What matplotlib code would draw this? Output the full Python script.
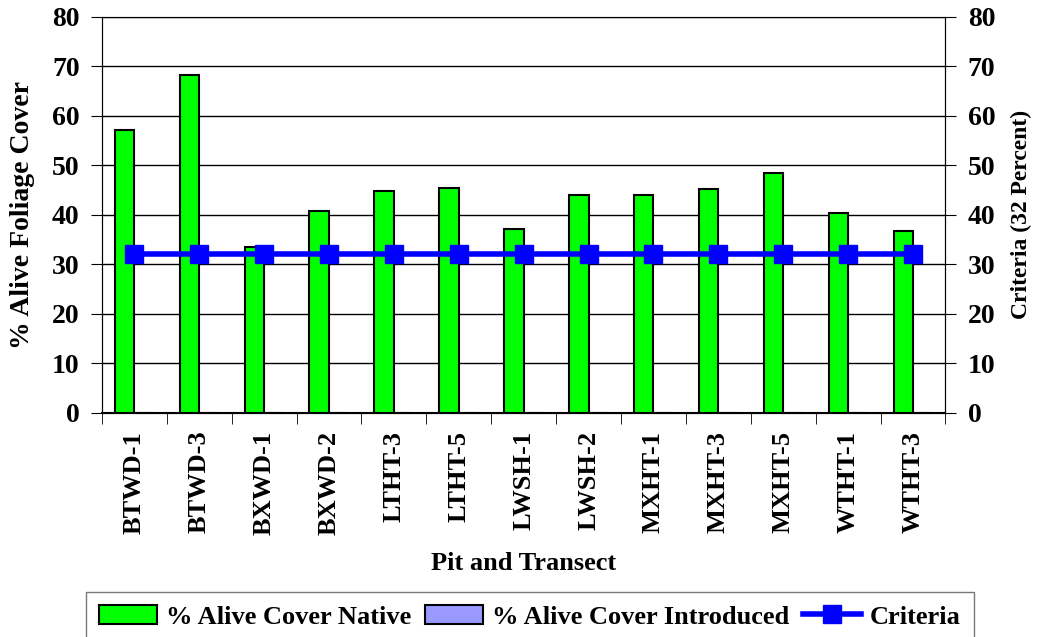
import numpy as np
import matplotlib.pyplot as plt

sitios = ["BTWD-1", "BTWD-3", "BXWD-1", "BXWD-2", "LTHT-3", "LTHT-5", "LWSH-1",
          "LWSH-2", "MXHT-1", "MXHT-3", "MXHT-5", "WTHT-1", "WTHT-3"]
cobertura_nativa = [57.0, 68.3, 33.5, 40.8, 44.8, 45.3, 37.2, 44.0, 44.0, 45.2, 48.5, 40.4, 36.8]
cobertura_introducida = [0] * 13
criterio = [32] * 13

plt.rcParams['font.family'] = ['Liberation Serif', 'DejaVu Serif']
plt.rcParams['font.weight'] = 'bold'

fig = plt.figure(figsize=(10.39, 6.37), dpi=100)
ax = fig.add_axes([0.098, 0.352, 0.812, 0.622])

x = np.arange(len(sitios))
ancho = 0.3
b1 = ax.bar(x - ancho / 2, cobertura_nativa, ancho, color="#00ff00", edgecolor="black",
            linewidth=1.5, label="% Alive Cover Native", zorder=3)
b2 = ax.bar(x + ancho / 2, cobertura_introducida, ancho, color="#9999ff", edgecolor="black",
            linewidth=1.5, label="% Alive Cover Introduced", zorder=3)

ax2 = ax.twinx()
l1, = ax2.plot(x, criterio, color="#0000ff", linewidth=4, marker="s", markersize=13.5,
               label="Criteria", zorder=4)

ax.set_xlim(-0.5, len(sitios) - 0.5)
ax.set_ylim(0, 80)
ax2.set_ylim(0, 80)
ax.set_yticks(range(0, 81, 10))
ax2.set_yticks(range(0, 81, 10))
ax.yaxis.grid(True, color="black", linewidth=1)
ax.set_axisbelow(True)

ax.set_xticks(x)
ax.set_xticklabels(sitios, rotation=90, fontsize=19, fontweight="bold")
ax.set_xticks(np.arange(-0.5, len(sitios), 1), minor=True)
ax.tick_params(axis="x", which="major", length=0, pad=13)
ax.tick_params(axis="x", which="minor", length=8, direction="out")
ax.tick_params(axis="y", labelsize=20, length=8, direction="out", pad=8)
ax2.tick_params(axis="y", labelsize=20, length=8, direction="out", pad=8)
for t in ax.get_yticklabels() + ax2.get_yticklabels():
    t.set_fontweight("bold")

ax.spines["top"].set_color("#888888")
ax.spines["bottom"].set_linewidth(1.5)

ax.set_ylabel("% Alive Foliage Cover", fontsize=20, fontweight="bold")
ax.yaxis.set_label_coords(-0.079, 0.5)
ax2.set_ylabel("Criteria (32 Percent)", fontsize=17, fontweight="bold")
ax2.yaxis.set_label_coords(1.078, 0.5)
ax.set_xlabel("Pit and Transect", fontsize=19, fontweight="bold", labelpad=12)

fig.legend([b1, b2, l1], ["% Alive Cover Native", "% Alive Cover Introduced", "Criteria"],
           loc="upper center", bbox_to_anchor=(0.510, 1 - 592 / 637), ncol=3, fontsize=19,
           frameon=True, fancybox=False, edgecolor="#555555", handlelength=2.2,
           columnspacing=0.5, handletextpad=0.35, borderpad=0.5, borderaxespad=0)

fig.savefig("out.png", dpi=100)
